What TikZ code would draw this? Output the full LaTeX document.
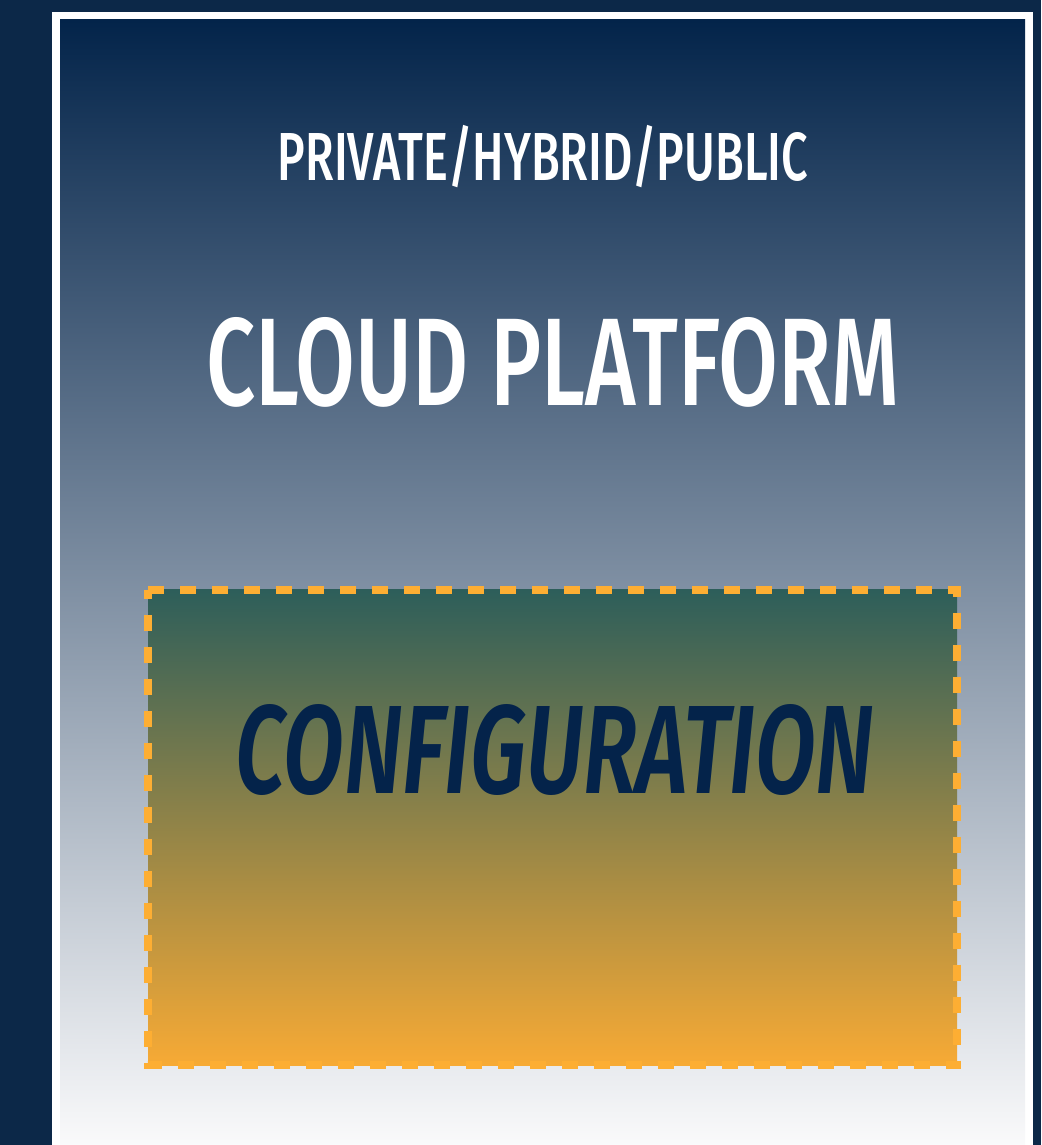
\documentclass[tikz,border=0pt]{standalone}
\usepackage{fontspec}
\usepackage{graphicx}
\setmainfont{Fira Sans}[UprightFont={* Medium}, ItalicFont={* SemiBold Italic}]
\definecolor{navybg}{HTML}{0C2848}
\definecolor{paneltop}{HTML}{03244A}
\definecolor{panelbottom}{HTML}{FAFAFB}
\definecolor{cfgtop}{HTML}{2D5E5A}
\definecolor{cfgbottom}{HTML}{F7AA35}
\definecolor{dashorange}{HTML}{FDAE33}
\definecolor{inknavy}{HTML}{04234A}
\tikzset{
  label text/.style={inner sep=0pt, anchor=base},
  cfg border/.style={draw=dashorange, line width=8pt,
    dash pattern=on 16pt off 16pt},
}
\begin{document}
\begin{tikzpicture}[x=1pt, y=-1pt]
  \useasboundingbox (0,0) rectangle (1041,1145);
  % page background and white frame
  \fill[navybg] (0,0) rectangle (1041,1145);
  \fill[white] (52,12) rectangle (1033,1150);
  \shade[top color=paneltop, bottom color=panelbottom] (60,20) rectangle (1025,1146);
  % configuration box
  \shade[top color=cfgtop, bottom color=cfgbottom] (148,589.5) rectangle (957,1065);
  \draw[cfg border] (148,589.5) -- (957,589.5) -- (957,1065) -- (148,1065) -- cycle;
  % texts
  \node[label text, text=white] (tier) at (543,180)
    {\resizebox{530pt}{48pt}{PRIVATE\smash{/}HYBRID\smash{/}PUBLIC}};
  \node[label text, text=white] (platform) at (553,405)
    {\resizebox{693pt}{88pt}{CLOUD PLATFORM}};
  \node[label text, text=inknavy] (config) at (555,793)
    {\resizebox{638pt}{89pt}{\itshape CONFIGURATION}};
\end{tikzpicture}
\end{document}
